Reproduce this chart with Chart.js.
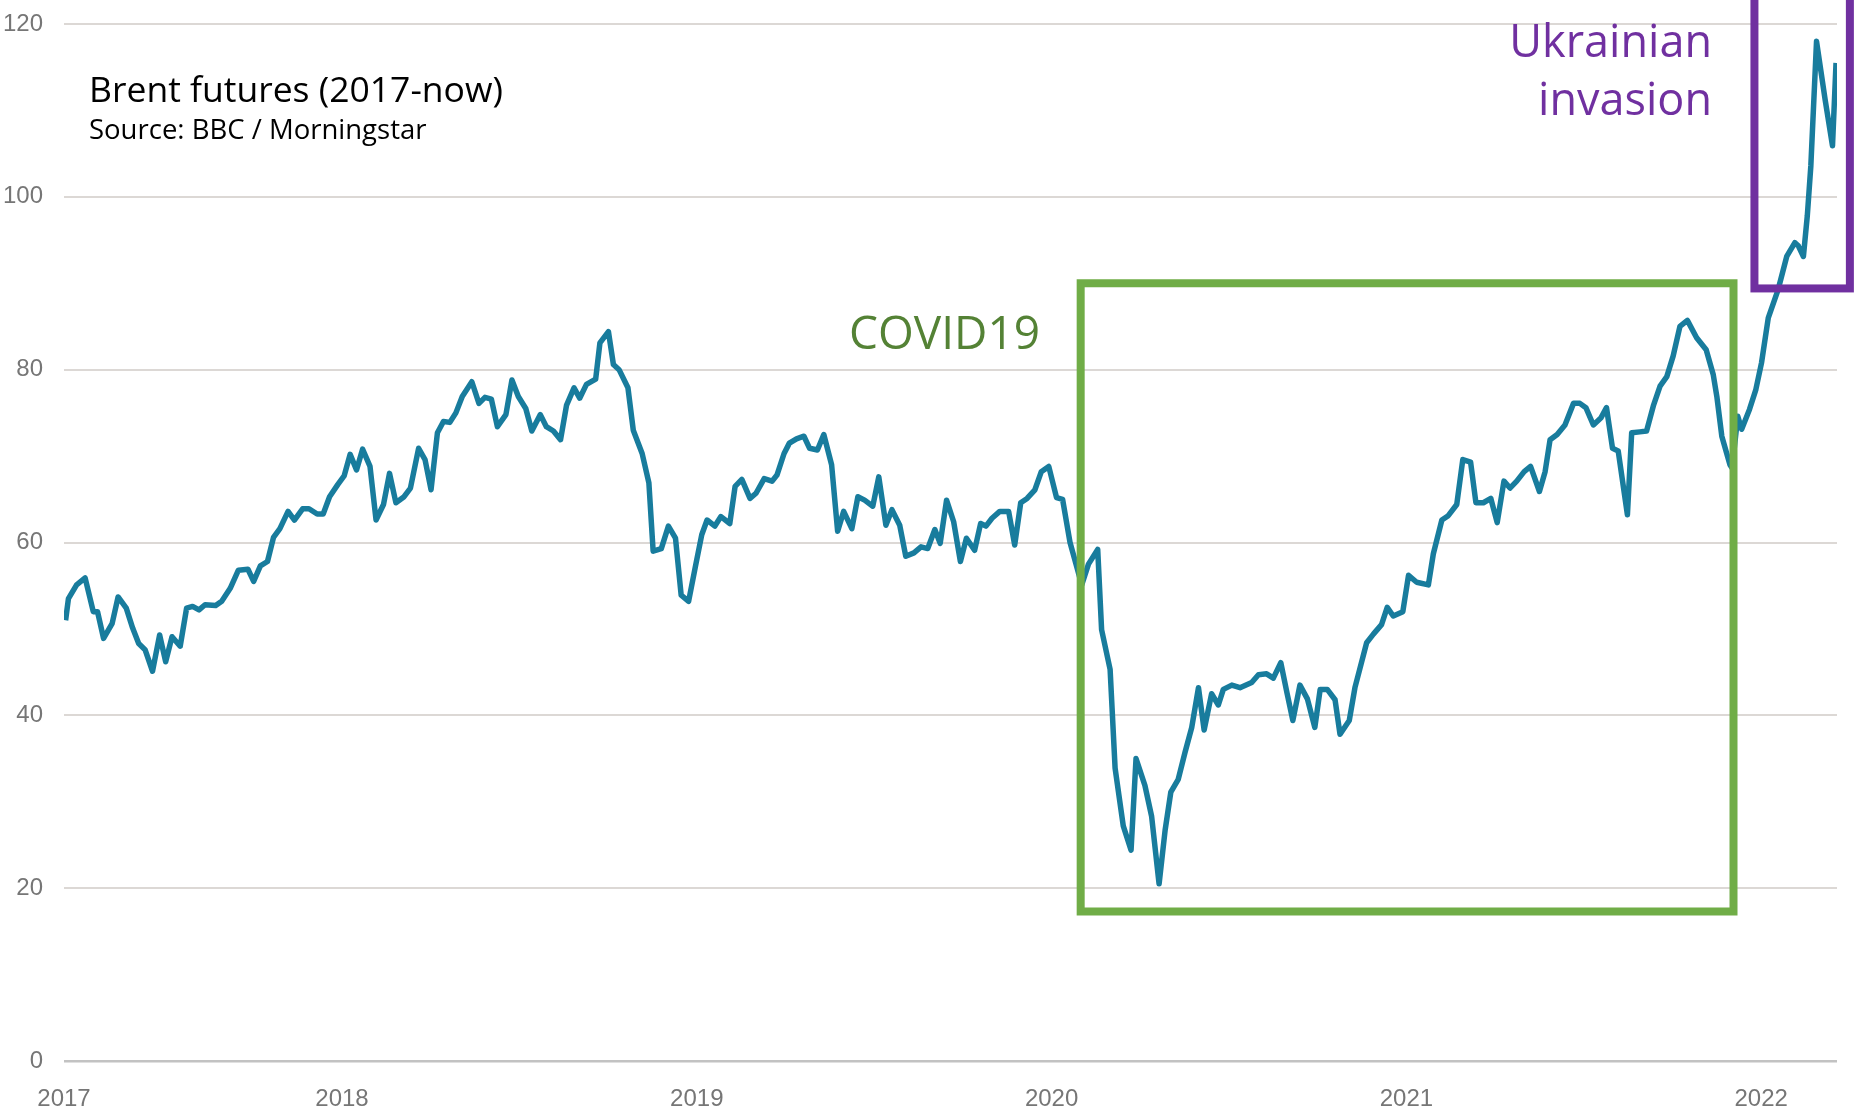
<!DOCTYPE html>
<html>
<head>
<meta charset="utf-8">
<title>Brent futures (2017-now)</title>
<script src="https://cdn.jsdelivr.net/npm/chart.js@4.4.0/dist/chart.umd.min.js"></script>
<style>
  html, body { margin: 0; padding: 0; background: #fff; }
  canvas { display: block; }
</style>
</head>
<body>
<canvas id="brentChart" width="1857" height="1117"></canvas>
<script>
// Brent futures, USD per barrel. x is a decimal year.
const years = [
  2017.221, 2017.229, 2017.252, 2017.276, 2017.299, 2017.311, 2017.328, 2017.352, 2017.369, 2017.392,
  2017.410, 2017.427, 2017.445, 2017.466, 2017.486, 2017.503, 2017.521, 2017.544, 2017.562, 2017.579,
  2017.597, 2017.614, 2017.644, 2017.661, 2017.685, 2017.708, 2017.735, 2017.751, 2017.770, 2017.790,
  2017.807, 2017.825, 2017.848, 2017.866, 2017.889, 2017.907, 2017.930, 2017.947, 2017.965, 2017.988,
  2018.006, 2018.023, 2018.041, 2018.058, 2018.079, 2018.096, 2018.117, 2018.134, 2018.152, 2018.175,
  2018.193, 2018.216, 2018.234, 2018.251, 2018.269, 2018.286, 2018.304, 2018.321, 2018.339, 2018.366,
  2018.386, 2018.403, 2018.421, 2018.438, 2018.462, 2018.479, 2018.497, 2018.518, 2018.535, 2018.559,
  2018.576, 2018.596, 2018.616, 2018.633, 2018.654, 2018.670, 2018.689, 2018.715, 2018.727, 2018.751,
  2018.765, 2018.781, 2018.806, 2018.821, 2018.846, 2018.865, 2018.877, 2018.900, 2018.920, 2018.940,
  2018.956, 2018.977, 2018.996, 2019.014, 2019.029, 2019.051, 2019.068, 2019.093, 2019.108, 2019.127,
  2019.150, 2019.167, 2019.190, 2019.212, 2019.226, 2019.246, 2019.261, 2019.281, 2019.302, 2019.318,
  2019.340, 2019.358, 2019.380, 2019.397, 2019.414, 2019.437, 2019.454, 2019.473, 2019.496, 2019.513,
  2019.533, 2019.550, 2019.572, 2019.589, 2019.612, 2019.632, 2019.651, 2019.671, 2019.686, 2019.704,
  2019.724, 2019.743, 2019.760, 2019.783, 2019.800, 2019.815, 2019.832, 2019.854, 2019.879, 2019.896,
  2019.913, 2019.931, 2019.953, 2019.971, 2019.992, 2020.014, 2020.031, 2020.052, 2020.085, 2020.104,
  2020.130, 2020.141, 2020.165, 2020.179, 2020.202, 2020.224, 2020.238, 2020.263, 2020.282, 2020.303,
  2020.320, 2020.336, 2020.357, 2020.376, 2020.395, 2020.414, 2020.430, 2020.451, 2020.470, 2020.484,
  2020.508, 2020.531, 2020.564, 2020.583, 2020.606, 2020.625, 2020.646, 2020.664, 2020.680, 2020.700,
  2020.721, 2020.742, 2020.757, 2020.777, 2020.799, 2020.813, 2020.839, 2020.855, 2020.888, 2020.907,
  2020.930, 2020.946, 2020.963, 2020.990, 2021.006, 2021.029, 2021.062, 2021.076, 2021.100, 2021.118,
  2021.142, 2021.159, 2021.181, 2021.196, 2021.217, 2021.238, 2021.256, 2021.275, 2021.292, 2021.311,
  2021.332, 2021.350, 2021.375, 2021.391, 2021.405, 2021.425, 2021.447, 2021.471, 2021.489, 2021.506,
  2021.527, 2021.548, 2021.564, 2021.581, 2021.597, 2021.623, 2021.635, 2021.658, 2021.677, 2021.696,
  2021.715, 2021.734, 2021.752, 2021.771, 2021.792, 2021.818, 2021.845, 2021.865, 2021.875, 2021.889,
  2021.912, 2021.918, 2021.934, 2021.945, 2021.967, 2021.985, 2022.001, 2022.020, 2022.048, 2022.072,
  2022.095, 2022.105, 2022.119, 2022.130, 2022.140, 2022.156, 2022.180, 2022.201, 2022.211
];
const brent = [
  51.0, 53.5, 55.1, 55.9, 52.0, 52.0, 48.9, 50.6, 53.7, 52.4,
  50.1, 48.3, 47.6, 45.1, 49.3, 46.2, 49.1, 48.0, 52.4, 52.6,
  52.2, 52.8, 52.7, 53.2, 54.7, 56.8, 56.9, 55.5, 57.3, 57.8,
  60.6, 61.6, 63.6, 62.6, 63.9, 63.9, 63.3, 63.3, 65.3, 66.7,
  67.7, 70.2, 68.4, 70.8, 68.8, 62.6, 64.4, 68.0, 64.6, 65.3,
  66.3, 70.9, 69.6, 66.1, 72.7, 74.0, 73.9, 75.0, 76.9, 78.6,
  76.1, 76.8, 76.6, 73.4, 74.8, 78.8, 76.9, 75.5, 72.9, 74.8,
  73.4, 72.9, 71.9, 75.9, 77.9, 76.7, 78.3, 78.9, 83.1, 84.4,
  80.6, 80.0, 77.9, 73.0, 70.3, 66.9, 59.0, 59.3, 61.9, 60.5,
  53.9, 53.2, 57.2, 60.9, 62.6, 61.9, 63.0, 62.2, 66.5, 67.3,
  65.1, 65.7, 67.4, 67.1, 67.8, 70.3, 71.5, 72.0, 72.3, 70.9,
  70.7, 72.5, 69.0, 61.3, 63.6, 61.6, 65.3, 64.9, 64.2, 67.6,
  62.0, 63.8, 62.0, 58.4, 58.8, 59.5, 59.3, 61.5, 59.9, 64.9,
  62.4, 57.8, 60.5, 59.1, 62.2, 61.9, 62.8, 63.6, 63.6, 59.7,
  64.6, 65.1, 66.1, 68.2, 68.8, 65.2, 65.0, 60.0, 55.1, 57.5,
  59.2, 49.9, 45.3, 33.9, 27.2, 24.4, 35.0, 31.9, 28.3, 20.5,
  26.7, 31.1, 32.6, 35.7, 38.6, 43.2, 38.3, 42.5, 41.2, 43.0,
  43.5, 43.2, 43.8, 44.7, 44.8, 44.3, 46.1, 42.5, 39.4, 43.5,
  41.9, 38.6, 43.0, 43.0, 41.8, 37.8, 39.4, 43.2, 48.4, 49.4,
  50.5, 52.5, 51.5, 52.0, 56.2, 55.4, 55.1, 58.7, 62.6, 63.1,
  64.4, 69.6, 69.3, 64.6, 64.6, 65.1, 62.3, 67.1, 66.3, 67.1,
  68.2, 68.8, 65.9, 68.2, 71.9, 72.5, 73.6, 76.1, 76.1, 75.6,
  73.6, 74.4, 75.6, 70.9, 70.6, 63.2, 72.7, 72.8, 72.9, 75.8,
  78.1, 79.2, 81.6, 85.0, 85.7, 83.7, 82.3, 79.4, 76.9, 72.3,
  69.0, 68.6, 74.6, 73.1, 75.4, 77.7, 80.8, 86.0, 89.3, 93.1,
  94.7, 94.3, 93.1, 97.8, 103.6, 118.0, 111.3, 105.9, 115.5
];

// axis range and year ticks (first tick is the start of the series)
const xStart = 2017.2165;
const xEnd = 2022.2137;
const yearTicks = [xStart, 2018, 2019, 2020, 2021, 2022];
const yearLabels = ['2017', '2018', '2019', '2020', '2021', '2022'];

// highlighted periods, in decimal years / USD
const covidBox = { x0: 2020.082, x1: 2021.922, y0: 17.3, y1: 90.0 };
const ukraineBox = { x0: 2021.981, x1: 2022.250, y0: 89.4, y1: 130 };

const points = years.map((t, i) => ({ x: t, y: brent[i] }));

function strokeBox(ctx, x, y, box, color) {
  const left = x.getPixelForValue(box.x0);
  const right = x.getPixelForValue(box.x1);
  const top = y.getPixelForValue(box.y1);
  const bottom = y.getPixelForValue(box.y0);
  ctx.strokeStyle = color;
  ctx.lineWidth = 8;
  ctx.lineJoin = 'miter';
  ctx.strokeRect(left, top, right - left, bottom - top);
}

const annotations = {
  id: 'annotations',
  afterDatasetsDraw(chart) {
    const { ctx, scales: { x, y } } = chart;
    ctx.save();
    strokeBox(ctx, x, y, covidBox, '#70ad47');
    strokeBox(ctx, x, y, ukraineBox, '#7030a0');

    ctx.textBaseline = 'alphabetic';
    ctx.fillStyle = '#000';
    ctx.textAlign = 'left';
    ctx.font = '35.5px "Open Sans"';
    ctx.fillText('Brent futures (2017-now)', 89, 102);
    ctx.font = '27.5px "Open Sans"';
    ctx.fillText('Source: BBC / Morningstar', 89, 139);

    ctx.font = '46px "Open Sans"';
    ctx.fillStyle = '#548235';
    ctx.fillText('COVID19', 849, 349);

    ctx.font = '45px "Open Sans"';
    ctx.fillStyle = '#7030a0';
    ctx.textAlign = 'right';
    ctx.fillText('Ukrainian', 1712, 57);
    ctx.fillText('invasion', 1712, 115);
    ctx.restore();
  }
};

const tickFont = { family: "'Liberation Sans', Arial, sans-serif", size: 24 };

new Chart(document.getElementById('brentChart'), {
  type: 'line',
  data: {
    datasets: [{
      label: 'Brent futures',
      data: points,
      borderColor: '#187c9d',
      borderWidth: 5.5,
      borderJoinStyle: 'round',
      pointRadius: 0,
      tension: 0,
      fill: false
    }]
  },
  options: {
    responsive: false,
    devicePixelRatio: 1,
    animation: false,
    layout: { padding: { top: 24, right: 20, left: 0, bottom: 0 } },
    plugins: {
      legend: { display: false },
      tooltip: { enabled: false }
    },
    scales: {
      x: {
        type: 'linear',
        min: xStart,
        max: xEnd,
        afterBuildTicks: (scale) => {
          scale.ticks = yearTicks.map(v => ({ value: v }));
        },
        afterFit: (scale) => { scale.height = 56; },
        grid: { display: false, drawTicks: false },
        border: { display: false },
        ticks: {
          autoSkip: false,
          maxRotation: 0,
          padding: 24,
          color: '#767676',
          font: tickFont,
          callback: (value, i) => yearLabels[i]
        }
      },
      y: {
        min: 0,
        max: 120,
        afterFit: (scale) => {
          scale.width = 64;
          scale.paddingTop = 0;
          scale.paddingBottom = 0;
        },
        grid: {
          drawTicks: false,
          color: (c) => c.tick.value === 0 ? '#c2c2c2' : '#dcd8d5',
          lineWidth: (c) => c.tick.value === 0 ? 2.5 : 2
        },
        border: { display: false },
        ticks: {
          stepSize: 20,
          padding: 21,
          color: '#767676',
          font: tickFont
        }
      }
    }
  },
  plugins: [annotations]
});
</script>
</body>
</html>
